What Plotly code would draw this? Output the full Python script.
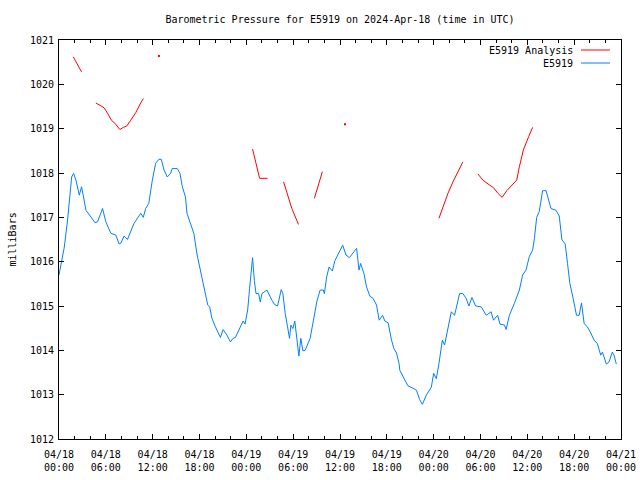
import plotly.graph_objects as go

# hours since 2024-04-18 00:00 UTC
obs_hours = [0.0, 0.68, 1.1, 1.3, 1.62, 1.87, 2.17, 2.6, 2.89, 3.1, 3.45, 4.09, 4.6, 4.94, 5.58, 6.0,
             6.64, 7.28, 7.7, 7.9, 8.34, 8.77, 9.6, 10.47, 10.8, 11.1, 11.5, 11.96, 12.38, 12.8, 13.1,
             13.45, 13.87, 14.3, 14.5, 15.15, 15.5, 15.8, 16.2, 16.4, 16.85, 17.27, 17.7, 18.55, 19.06,
             19.3, 19.6, 20.04, 20.68, 21.02, 21.53, 21.96, 22.3, 22.6, 23.23, 23.58, 23.83, 24.17,
             24.42, 24.64, 24.8, 25.02, 25.24, 25.57, 25.79, 26.0, 26.64, 27.28, 27.58, 28.0, 28.25,
             28.47, 28.68, 28.98, 29.28, 29.53, 29.71, 29.96, 30.21, 30.38, 30.6, 30.73, 30.98, 31.24,
             31.53, 32.17, 32.6, 33.02, 33.45, 33.87, 34.0, 34.3, 34.6, 35.02, 35.36, 35.79, 36.35,
             36.77, 37.19, 38.13, 38.43, 38.64, 39.07, 39.4, 39.83, 40.25, 40.68, 41.02, 41.45, 41.75,
             42.17, 42.6, 42.9, 43.24, 43.57, 43.66, 44.3, 44.7, 45.3, 45.8, 46.2, 46.55, 47.06, 47.7,
             48.0, 48.34, 48.68, 49.11, 49.4, 49.83, 50.26, 50.68, 51.32, 51.74, 52.17, 52.51, 52.9,
             53.37, 54.1, 54.74, 55.36, 55.66, 56.2, 56.5, 57.07, 57.28, 57.7, 58.34, 58.98, 59.4,
             59.83, 60.26, 60.68, 60.9, 61.2, 61.53, 61.96, 62.4, 62.72, 63.03, 63.67, 64.09, 64.43,
             64.85, 65.15, 65.45, 65.87, 66.3, 66.64, 66.94, 67.28, 67.7, 68.13, 68.55, 68.98, 69.4,
             69.62, 70.13, 70.47, 70.89, 71.11, 71.4]
obs_values = [1015.7, 1016.33, 1016.94, 1017.39, 1017.91, 1017.99, 1017.84, 1017.5, 1017.69, 1017.5,
              1017.16, 1017.01, 1016.88, 1016.9, 1017.2, 1016.9, 1016.64, 1016.6, 1016.4, 1016.41,
              1016.58, 1016.5, 1016.86, 1017.09, 1017.0, 1017.2, 1017.31, 1017.84, 1018.22, 1018.31,
              1018.31, 1018.07, 1017.91, 1017.99, 1018.1, 1018.1, 1017.99, 1017.69, 1017.46, 1017.09,
              1016.86, 1016.64, 1016.15, 1015.43, 1015.02, 1014.98, 1014.72, 1014.53, 1014.29, 1014.47,
              1014.34, 1014.19, 1014.27, 1014.29, 1014.53, 1014.66, 1014.59, 1014.91, 1015.4, 1015.88,
              1016.09, 1015.58, 1015.28, 1015.28, 1015.09, 1015.28, 1015.36, 1015.13, 1015.04, 1015.0,
              1015.21, 1015.37, 1015.28, 1014.83, 1014.53, 1014.27, 1014.57, 1014.49, 1014.66, 1014.38,
              1014.11, 1013.87, 1014.27, 1013.99, 1014.0, 1014.27, 1014.68, 1015.09, 1015.36, 1015.36,
              1015.28, 1015.66, 1015.88, 1015.79, 1016.03, 1016.18, 1016.37, 1016.15, 1016.09, 1016.3,
              1015.81, 1015.96, 1015.73, 1015.43, 1015.22, 1015.17, 1015.02, 1014.68, 1014.79, 1014.66,
              1014.62, 1014.23, 1014.04, 1013.94, 1013.7, 1013.55, 1013.35, 1013.2, 1013.15, 1013.1,
              1012.89, 1012.78, 1012.99, 1013.17, 1013.48, 1013.36, 1013.7, 1014.23, 1014.12, 1014.53,
              1014.87, 1014.79, 1015.28, 1015.28, 1015.17, 1015.0, 1015.19, 1015.0, 1014.98, 1014.79,
              1014.87, 1014.68, 1014.79, 1014.59, 1014.57, 1014.47, 1014.79, 1015.06, 1015.36, 1015.7,
              1015.81, 1016.12, 1016.26, 1016.52, 1017.0, 1017.13, 1017.6, 1017.6, 1017.39, 1017.2,
              1017.16, 1017.03, 1016.49, 1016.4, 1015.96, 1015.51, 1015.17, 1014.79, 1014.79, 1015.07,
              1014.6, 1014.53, 1014.39, 1014.23, 1014.15, 1013.89, 1013.96, 1013.69, 1013.74, 1013.96,
              1013.89, 1013.69]

# analysis series (None = gap)
ana_hours = [1.83, 2.89, None,
             4.72, 5.28, 5.79, 6.21, 6.72, 7.28, 7.79, 8.25, 8.68, 9.19, 9.83, 10.47, 10.81, None,
             24.8, 25.28, 25.7, 26.13, 26.72, None,
             28.77, 29.83, 30.68, None,
             32.72, 33.74, None,
             48.68, 49.19, 49.83, 50.47, 51.1, 51.74, None,
             53.66, 54.3, 55.15, 55.66, 56.2, 56.77, 57.36, 58.13, 58.64, 58.98, 59.49, 60.17, 60.68]
ana_values = [1020.62, 1020.28, None,
              1019.58, 1019.53, 1019.47, 1019.35, 1019.19, 1019.1, 1018.98, 1019.03, 1019.06, 1019.19,
              1019.36, 1019.58, 1019.68, None,
              1018.54, 1018.22, 1017.88, 1017.88, 1017.88, None,
              1017.8, 1017.2, 1016.84, None,
              1017.43, 1018.03, None,
              1016.98, 1017.24, 1017.54, 1017.8, 1018.03, 1018.25, None,
              1017.98, 1017.84, 1017.73, 1017.67, 1017.55, 1017.45, 1017.6, 1017.75, 1017.84, 1018.14,
              1018.52, 1018.82, 1019.03]
# isolated analysis points
ana_dot_hours = [12.8, 36.64]
ana_dot_values = [1020.64, 1019.1]

tick_hours = [0, 6, 12, 18, 24, 30, 36, 42, 48, 54, 60, 66, 72]
tick_labels = ["04/18<br>00:00", "04/18<br>06:00", "04/18<br>12:00", "04/18<br>18:00",
               "04/19<br>00:00", "04/19<br>06:00", "04/19<br>12:00", "04/19<br>18:00",
               "04/20<br>00:00", "04/20<br>06:00", "04/20<br>12:00", "04/20<br>18:00",
               "04/21<br>00:00"]
y_ticks = [1012, 1013, 1014, 1015, 1016, 1017, 1018, 1019, 1020, 1021]
legend_labels = ["E5919 Analysis", "E5919"]

RED = "#ff0000"
BLUE = "#0080ff"
FONT = "DejaVu Sans Mono"

W, H = 640, 480
L, T, R, B = 59, 40, 19, 41
PW, PH = 562, 399

fig = go.Figure()
fig.add_trace(go.Scatter(x=ana_hours, y=ana_values, mode="lines", line=dict(color=RED, width=1),
                         connectgaps=False, showlegend=False))
fig.add_trace(go.Scatter(x=ana_dot_hours, y=ana_dot_values, mode="markers",
                         marker=dict(color=RED, size=2, symbol="square", line=dict(width=0)),
                         showlegend=False))
fig.add_trace(go.Scatter(x=obs_hours, y=obs_values, mode="lines", line=dict(color=BLUE, width=1),
                         showlegend=False))

# legend drawn gnuplot-style (text then sample line)
for label, color, ypix in zip(legend_labels, [RED, BLUE], [50, 63]):
    yp = 1 - (ypix - T) / PH
    fig.add_annotation(x=(575 - L) / PW, y=yp, xref="paper", yref="paper", text=label,
                       showarrow=False, xanchor="right", yanchor="middle",
                       font=dict(family=FONT, size=10, color="black"))
    fig.add_shape(type="line", xref="paper", yref="paper",
                  x0=(581 - L) / PW, x1=(610 - L) / PW, y0=yp, y1=yp,
                  line=dict(color=color, width=1))

# y-axis title
fig.add_annotation(x=(12 - L) / PW, y=0.5, xref="paper", yref="paper", text="milliBars",
                   textangle=-90, showarrow=False, xanchor="center", yanchor="middle",
                   font=dict(family=FONT, size=10, color="black"))

fig.update_layout(
    width=W, height=H,
    margin=dict(l=L, r=R, t=T, b=B, pad=0, autoexpand=False),
    paper_bgcolor="white", plot_bgcolor="white",
    font=dict(family=FONT, size=10, color="black"),
    title=dict(text="Barometric Pressure for E5919 on 2024-Apr-18 (time in UTC)",
               x=340 / W, xanchor="center", y=1 - 19 / H, yanchor="middle",
               font=dict(family=FONT, size=10, color="black")),
    showlegend=False,
)
fig.update_xaxes(range=[0, 72], tickvals=tick_hours, ticktext=tick_labels, automargin=False,
                 showgrid=False, zeroline=False, showline=True, linecolor="black", linewidth=1,
                 mirror="ticks", ticks="inside", ticklen=5, tickcolor="black", tickwidth=1,
                 ticklabelstandoff=6,
                 minor=dict(dtick=2, tick0=0, ticks="inside", ticklen=3, tickcolor="black", showgrid=False),
                 tickfont=dict(family=FONT, size=10, color="black"))
fig.update_yaxes(range=[1012, 1021], tickvals=y_ticks, automargin=False,
                 showgrid=False, zeroline=False, showline=True, linecolor="black", linewidth=1,
                 mirror="ticks", ticks="inside", ticklen=5, tickcolor="black", tickwidth=1,
                 ticklabelstandoff=2,
                 tickfont=dict(family=FONT, size=10, color="black"))

fig.write_html("out.html",
               config={"displayModeBar": False, "staticPlot": True},
               post_script="document.body.style.margin='0px';document.body.style.overflow='hidden';")
